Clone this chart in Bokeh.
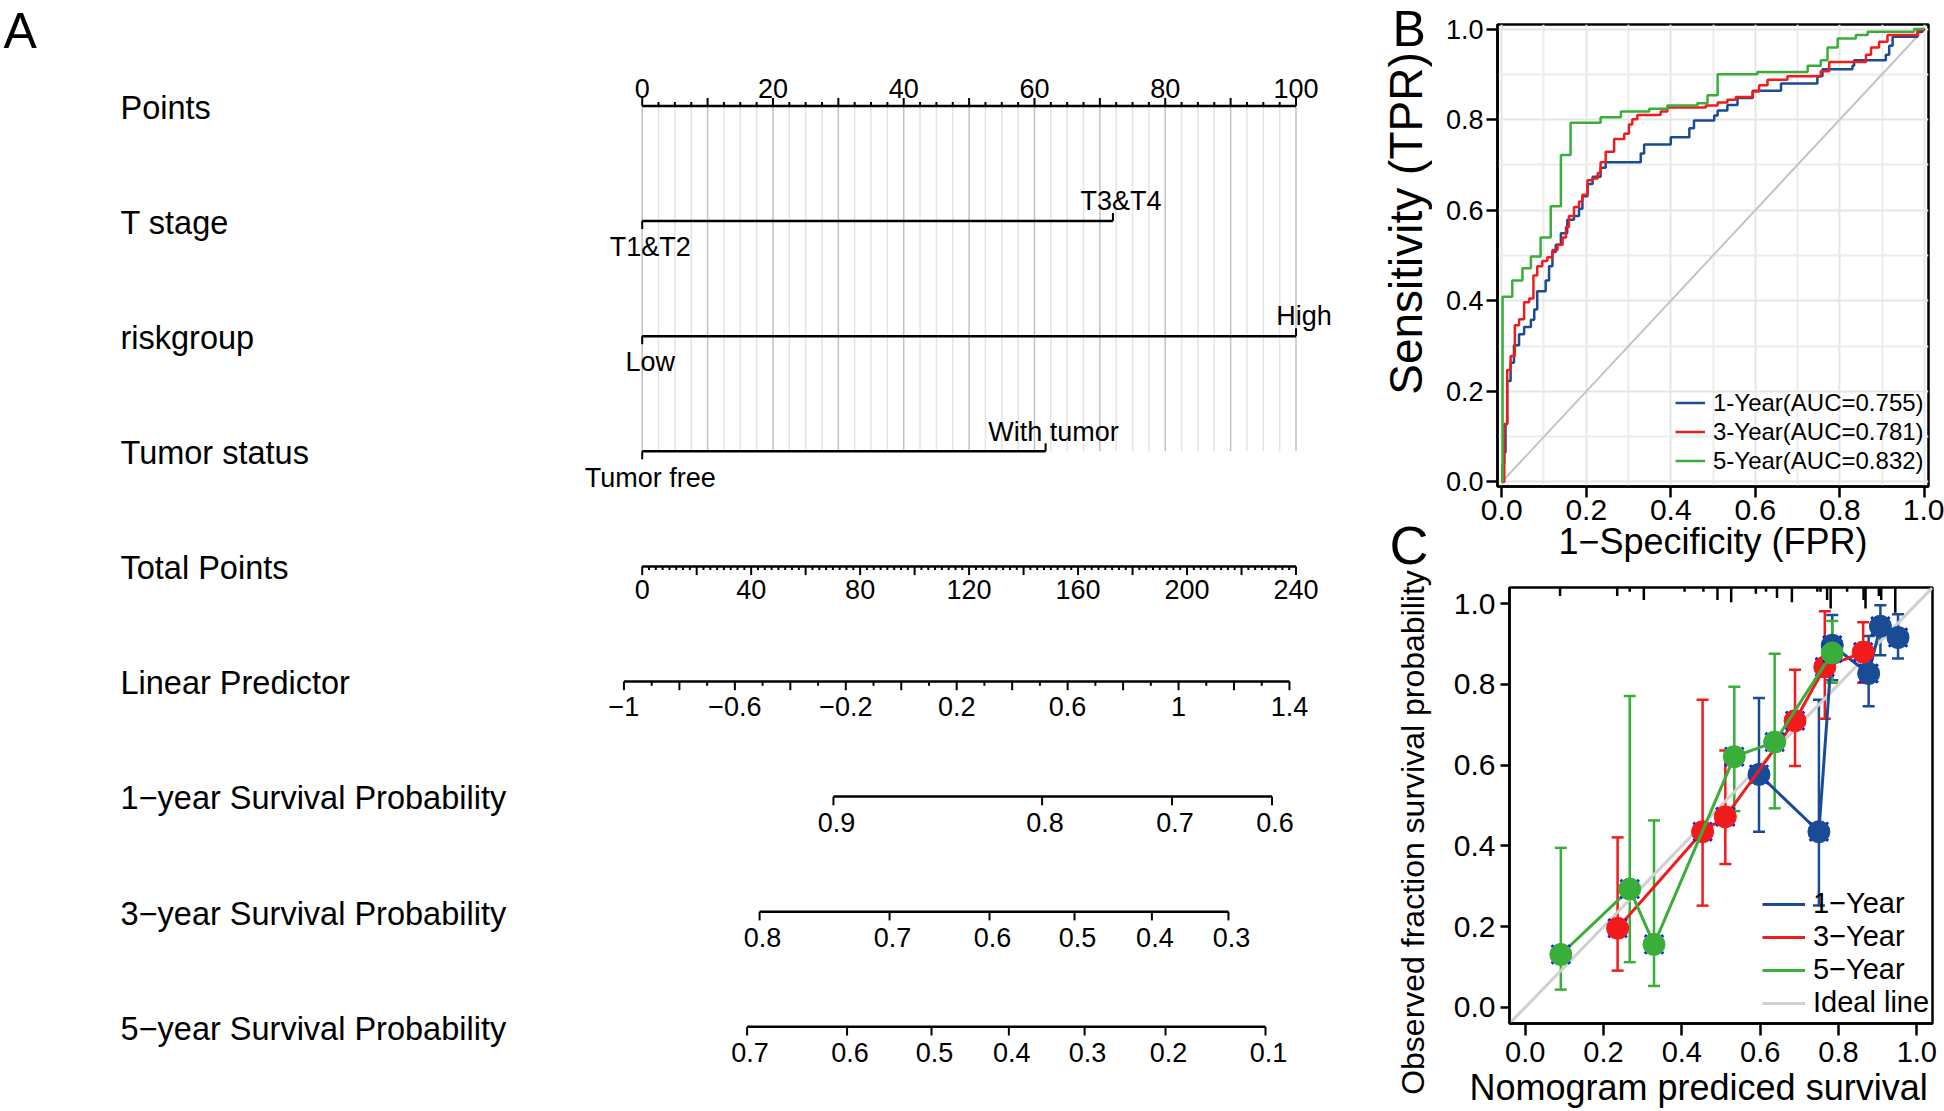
import numpy as np
from bokeh.plotting import figure
from bokeh.layouts import row, column
from bokeh.models import (Range1d, FixedTicker, PrintfTickFormatter, Legend, LegendItem,
                          Whisker, TeeHead, ColumnDataSource, Title)
from bokeh.core.properties import value
from bokeh.embed import file_html
from bokeh.resources import INLINE

FONT = "Liberation Sans"

# ---------------- Panel A : nomogram data ----------------
row_names = ["Points", "T stage", "riskgroup", "Tumor status", "Total Points", "Linear Predictor",
             "1\u2212year Survival Probability", "3\u2212year Survival Probability",
             "5\u2212year Survival Probability"]
points_labels = [0, 20, 40, 60, 80, 100]
tstage_levels = ["T1&T2", "T3&T4"]
tstage_points = [0.0, 72.0]
risk_levels = ["Low", "High"]
risk_points = [0.0, 100.0]
tumor_levels = ["Tumor free", "With tumor"]
tumor_points = [0.0, 61.7]
total_labels = [0, 40, 80, 120, 160, 200, 240]
lp_labels = [-1, -0.6, -0.2, 0.2, 0.6, 1, 1.4]
lp_ends = [-1.0, 1.4]
lp_ends_total_points = [-6.7, 237.6]
surv1_labels = [0.9, 0.8, 0.7, 0.6]
surv1_total_points = [70.2, 146.8, 194.5, 231.2]
surv3_labels = [0.8, 0.7, 0.6, 0.5, 0.4, 0.3]
surv3_total_points = [43.1, 90.8, 127.5, 158.7, 187.1, 215.2]
surv5_labels = [0.7, 0.6, 0.5, 0.4, 0.3, 0.2, 0.1]
surv5_total_points = [38.5, 75.2, 106.2, 134.6, 162.4, 192.1, 228.8]

# ---------------- Panel B : ROC data ----------------
fpr1 = [0.0, 0.002, 0.006, 0.009, 0.013, 0.021, 0.029, 0.041, 0.053, 0.069, 0.077, 0.084, 0.104, 0.112,
        0.120, 0.128, 0.140, 0.155, 0.171, 0.183, 0.191, 0.203, 0.215, 0.234, 0.246, 0.329, 0.337, 0.400,
        0.444, 0.455, 0.503, 0.511, 0.534, 0.558, 0.594, 0.661, 0.747, 0.759, 0.830, 0.834, 0.909, 0.917,
        0.925, 0.984, 0.996, 1.0]
tpr1 = [0.0, 0.041, 0.065, 0.128, 0.223, 0.263, 0.302, 0.326, 0.342, 0.358, 0.381, 0.421, 0.445, 0.476,
        0.508, 0.524, 0.549, 0.579, 0.587, 0.603, 0.631, 0.658, 0.674, 0.694, 0.706, 0.725, 0.745, 0.761,
        0.781, 0.798, 0.809, 0.820, 0.832, 0.848, 0.864, 0.880, 0.896, 0.911, 0.919, 0.931, 0.943, 0.963,
        0.983, 0.994, 1.0, 1.0]
fpr3 = [0.0, 0.006, 0.013, 0.021, 0.031, 0.041, 0.053, 0.065, 0.075, 0.084, 0.096, 0.108, 0.120, 0.132,
        0.144, 0.152, 0.159, 0.171, 0.183, 0.191, 0.203, 0.215, 0.227, 0.234, 0.246, 0.266, 0.290, 0.301,
        0.309, 0.321, 0.376, 0.392, 0.483, 0.511, 0.534, 0.554, 0.594, 0.609, 0.629, 0.676, 0.755, 0.775,
        0.862, 0.874, 0.893, 0.913, 0.984, 1.0]
tpr3 = [0.0, 0.128, 0.247, 0.278, 0.346, 0.359, 0.397, 0.405, 0.456, 0.476, 0.488, 0.496, 0.512, 0.524,
        0.540, 0.563, 0.587, 0.607, 0.619, 0.634, 0.666, 0.670, 0.682, 0.706, 0.729, 0.757, 0.769, 0.789,
        0.801, 0.810, 0.818, 0.827, 0.831, 0.838, 0.844, 0.850, 0.862, 0.876, 0.888, 0.896, 0.907, 0.927,
        0.943, 0.959, 0.972, 0.987, 0.998, 1.0]
fpr5 = [0.0, 0.002, 0.025, 0.049, 0.069, 0.092, 0.116, 0.140, 0.163, 0.234, 0.282, 0.349, 0.392, 0.463,
        0.487, 0.511, 0.605, 0.724, 0.755, 0.771, 0.795, 0.838, 0.866, 0.976, 1.0]
tpr5 = [0.0, 0.409, 0.445, 0.472, 0.498, 0.540, 0.609, 0.722, 0.793, 0.805, 0.818, 0.824, 0.831, 0.836,
        0.854, 0.900, 0.905, 0.919, 0.931, 0.959, 0.979, 0.987, 0.994, 1.0, 1.0]
roc_labels = ["1-Year(AUC=0.755)", "3-Year(AUC=0.781)", "5-Year(AUC=0.832)"]
roc_xlabel = "1\u2212Specificity (FPR)"
roc_ylabel = "Sensitivity (TPR)"

# ---------------- Panel C : calibration data ----------------
cal1_x = [0.597, 0.750, 0.784, 0.877, 0.907, 0.952]
cal1_y = [0.577, 0.435, 0.897, 0.827, 0.944, 0.916]
cal1_lo = [0.435, 0.252, 0.810, 0.746, 0.872, 0.864]
cal1_hi = [0.766, 0.762, 0.972, 0.920, 0.996, 0.974]
cal3_x = [0.236, 0.453, 0.511, 0.689, 0.765, 0.863]
cal3_y = [0.196, 0.435, 0.472, 0.710, 0.843, 0.880]
cal3_lo = [0.091, 0.252, 0.355, 0.598, 0.715, 0.804]
cal3_hi = [0.421, 0.762, 0.636, 0.836, 0.981, 0.954]
cal5_x = [0.091, 0.267, 0.329, 0.534, 0.637, 0.784]
cal5_y = [0.131, 0.293, 0.156, 0.621, 0.657, 0.878]
cal5_lo = [0.044, 0.112, 0.053, 0.486, 0.493, 0.804]
cal5_hi = [0.395, 0.771, 0.463, 0.794, 0.876, 0.957]
rug_x = [0.089, 0.235, 0.267, 0.303, 0.407, 0.455, 0.491, 0.526, 0.589, 0.615, 0.643, 0.681, 0.746,
         0.754, 0.771, 0.780, 0.822, 0.864, 0.869, 0.903, 0.909, 0.945]
rug_n = [2, 2, 1, 3, 1, 1, 3, 3.5, 1.5, 1, 2.5, 3.5, 1, 1, 3, 5, 1, 3, 5, 2, 3, 6]
cal_labels = ["1\u2212Year", "3\u2212Year", "5\u2212Year", "Ideal line"]
cal_xlabel = "Nomogram prediced survival"
cal_ylabel = "Observed fraction survival probability"

BLUE, RED, GREEN = "#1a4c96", "#f21b1b", "#3aae3a"
XMARK = "#0a1eff"

# ---------------- page geometry (pixels) ----------------
PAGE_W, PAGE_H = 1944, 1111
SPLIT_X = 1432
SPLIT_Y = 580

def fmt(v):
    return f"{v:g}".replace("-", "\u2212")

BASE_SHIFT = 0.36   # em; compensates the renderer's placement of alphabetic baselines

def txt(p, xs, ys, texts, size, align="center", angle=0.0):
    xs = np.asarray(xs, float)
    ys = np.asarray(ys, float)
    if angle == 0.0:
        ys = ys - BASE_SHIFT * size
    p.text(x=list(xs), y=list(ys), text=list(texts), angle=angle,
           text_font=value(FONT), text_font_size=value(f"{size}px"),
           text_align=align, text_baseline="alphabetic", text_color="black")

# ======================= Panel A =======================
pA = figure(width=SPLIT_X, height=PAGE_H, x_range=Range1d(0, SPLIT_X), y_range=Range1d(PAGE_H, 0),
            x_axis_location=None, y_axis_location=None, toolbar_location=None,
            output_backend="svg", min_border=0)
pA.grid.visible = False
pA.outline_line_color = None

PT0_X, PT_SPAN = 641.7, 653.8
ROW_Y0, ROW_GAP = 105.5, 115.1
row_y = ROW_Y0 + ROW_GAP * np.arange(len(row_names))

def pts_x(v):
    return PT0_X + np.asarray(v, float) * PT_SPAN / 100.0

def tot_x(v):
    return PT0_X + np.asarray(v, float) * PT_SPAN / 240.0

def lp_x(v):
    t = lp_ends_total_points[0] + (np.asarray(v, float) - lp_ends[0]) * \
        (lp_ends_total_points[1] - lp_ends_total_points[0]) / (lp_ends[1] - lp_ends[0])
    return tot_x(t)

LW = 2.5
TW = 2.0

# row labels and panel letters
txt(pA, [120] * len(row_names), row_y + 13.5, row_names, 32.5, align="left")
txt(pA, [3], [48], ["A"], 50, align="left")
txt(pA, [1392], [46], ["B"], 50, align="left")
txt(pA, [1389], [564], ["C"], 54, align="left")
# rotated axis titles of panels B and C
txt(pA, [1405], [223], [roc_ylabel], 46, angle=np.pi / 2)
txt(pA, [1412], [832], [cal_ylabel], 32, angle=np.pi / 2)

# vertical reference grid (Points scale)
ptick = np.arange(0, 100.001, 2.5)
pmaj = np.isclose(ptick % 10, 0)
for sel, col in [(~pmaj, "#e4e4e4"), (pmaj, "#c2c2c2")]:
    xs = pts_x(ptick[sel])
    pA.segment(x0=xs, y0=[row_y[0]] * len(xs), x1=xs, y1=[row_y[3]] * len(xs), line_color=col, line_width=1.5)

# Points axis
y = row_y[0]
pA.segment(x0=[pts_x(0)], y0=[y], x1=[pts_x(100)], y1=[y], line_color="black", line_width=LW)
xs = pts_x(ptick)
pA.segment(x0=xs, y0=[y] * len(xs), x1=xs, y1=list(y - np.where(pmaj, 8, 4)), line_color="black", line_width=TW)
txt(pA, pts_x(points_labels), [y - 8] * len(points_labels), [fmt(v) for v in points_labels], 27)

# categorical predictors
for ri, levels, pts in [(1, tstage_levels, tstage_points), (2, risk_levels, risk_points),
                        (3, tumor_levels, tumor_points)]:
    y = row_y[ri]
    xs = pts_x(pts)
    pA.segment(x0=[xs.min()], y0=[y], x1=[xs.max()], y1=[y], line_color="black", line_width=LW)
    for i, (lev, x) in enumerate(zip(levels, xs)):
        d = 1 if i % 2 == 0 else -1
        pA.segment(x0=[x], y0=[y], x1=[x], y1=[y + 8 * d], line_color="black", line_width=TW)
        txt(pA, [x + 8], [y + (36 if d > 0 else -10)], [lev], 27)

# Total points
y = row_y[4]
ttick = np.arange(0, 240.001, 2.5)
tmaj = np.isclose(ttick % 20, 0)
pA.segment(x0=[tot_x(0)], y0=[y], x1=[tot_x(240)], y1=[y], line_color="black", line_width=LW)
xs = tot_x(ttick)
pA.segment(x0=xs, y0=[y] * len(xs), x1=xs, y1=list(y + np.where(tmaj, 8.7, 3.6)), line_color="black", line_width=TW)
txt(pA, tot_x(total_labels), [y + 32.6] * len(total_labels), [fmt(v) for v in total_labels], 27)

# Linear predictor
y = row_y[5]
ltick = np.round(np.arange(lp_ends[0], lp_ends[1] + 1e-9, 0.1), 1)
lmaj = (np.arange(len(ltick)) % 2 == 0)
pA.segment(x0=[lp_x(lp_ends[0])], y0=[y], x1=[lp_x(lp_ends[1])], y1=[y], line_color="black", line_width=LW)
xs = lp_x(ltick)
pA.segment(x0=xs, y0=[y] * len(xs), x1=xs, y1=list(y + np.where(lmaj, 8.7, 4.3)), line_color="black", line_width=TW)
txt(pA, lp_x(lp_labels), [y + 34.5] * len(lp_labels), [fmt(v) for v in lp_labels], 27)

# Survival probability scales
for ri, labs, tps in [(6, surv1_labels, surv1_total_points), (7, surv3_labels, surv3_total_points),
                      (8, surv5_labels, surv5_total_points)]:
    y = row_y[ri]
    xs = tot_x(tps)
    pA.segment(x0=[xs.min()], y0=[y], x1=[xs.max()], y1=[y], line_color="black", line_width=LW)
    pA.segment(x0=xs, y0=[y] * len(xs), x1=xs, y1=[y + 8.7] * len(xs), line_color="black", line_width=TW)
    txt(pA, xs + 3, [y + 35.5] * len(xs), [fmt(v) for v in labs], 27)


# ======================= axis styling helper =======================
def style_axis(ax, tick_out, lab_size, lab_standoff, title_size=None, title_standoff=0):
    ax.ticker = FixedTicker(ticks=[0, 0.2, 0.4, 0.6, 0.8, 1.0], minor_ticks=[0.1, 0.3, 0.5, 0.7, 0.9])
    ax.formatter = PrintfTickFormatter(format="%.1f")
    ax.major_tick_out = tick_out
    ax.major_tick_in = 0
    ax.major_tick_line_width = 2.5
    ax.major_tick_line_color = "black"
    ax.minor_tick_line_color = None
    ax.axis_line_color = "black"
    ax.axis_line_width = 2.5
    ax.major_label_text_font = FONT
    ax.major_label_text_font_size = f"{lab_size}px"
    ax.major_label_text_color = "black"
    ax.major_label_standoff = lab_standoff
    if title_size:
        ax.axis_label_text_font = FONT
        ax.axis_label_text_font_size = f"{title_size}px"
        ax.axis_label_text_font_style = "normal"
        ax.axis_label_text_color = "black"
        ax.axis_label_standoff = title_standoff
    else:
        ax.axis_label = None


def no_frame_align(p):
    try:
        p.frame_align = False
    except Exception:
        pass


# ======================= Panel B : ROC =======================
B_FL, B_FR, B_FT, B_FB = 1497, 1928, 24, 486
pB = figure(width=PAGE_W - SPLIT_X, height=SPLIT_Y,
            x_range=Range1d(-0.01, 1.01), y_range=Range1d(-0.01, 1.01),
            x_axis_label=roc_xlabel,
            toolbar_location=None, output_backend="svg",
            min_border_left=B_FL - SPLIT_X, min_border_right=PAGE_W - B_FR,
            min_border_top=B_FT, min_border_bottom=SPLIT_Y - B_FB)
no_frame_align(pB)
style_axis(pB.xaxis[0], 11, 30, 2, 36, -2)
style_axis(pB.yaxis[0], 11, 27, 3)
for g in pB.grid:
    g.grid_line_color = "#e6e6e6"
    g.grid_line_width = 2
    g.minor_grid_line_color = "#ececec"
    g.minor_grid_line_width = 2
pB.outline_line_color = "black"
pB.outline_line_width = 2.5
pB.outline_line_alpha = 1.0

pB.line(x=[0, 1], y=[0, 1], line_color="#c4c4c4", line_width=2)
rB = []
for fx, ty, col in [(fpr1, tpr1, BLUE), (fpr3, tpr3, RED), (fpr5, tpr5, GREEN)]:
    rB.append(pB.step(x=fx, y=ty, mode="after", line_color=col, line_width=2.5))
legB = Legend(items=[LegendItem(label=l, renderers=[r]) for l, r in zip(roc_labels, rB)],
              location=(1675 - B_FL, 11), glyph_width=30, glyph_height=29, label_height=29, spacing=0,
              padding=0, margin=0, label_standoff=8, border_line_color=None, background_fill_alpha=0,
              label_text_font=FONT, label_text_font_size="24px", label_text_color="black")
pB.add_layout(legB)

# ======================= Panel C : calibration =======================
C_FL, C_FR, C_FT, C_FB = 1509, 1932, 587, 1023
pC = figure(width=PAGE_W - SPLIT_X, height=PAGE_H - SPLIT_Y,
            x_range=Range1d(-0.04, 1.04), y_range=Range1d(-0.04, 1.04),
            toolbar_location=None, output_backend="svg",
            min_border_left=C_FL - SPLIT_X, min_border_right=PAGE_W - C_FR,
            min_border_top=C_FT - SPLIT_Y, min_border_bottom=PAGE_H - C_FB)
no_frame_align(pC)
pC.grid.visible = False
style_axis(pC.xaxis[0], 12, 29, 6)
style_axis(pC.yaxis[0], 9, 30, 5)
pC.outline_line_color = "black"
pC.outline_line_width = 2.5
pC.outline_line_alpha = 1.0
pC.add_layout(Title(text=cal_xlabel, align="left", offset=-(C_FL - 1469), standoff=0,
                    text_font=FONT, text_font_size="36px", text_font_style="normal", text_color="black"),
              "below")

# ideal line
r_ideal = pC.line(x=[pC.x_range.start, pC.x_range.end], y=[pC.y_range.start, pC.y_range.end],
                  line_color="#d0d0d0", line_width=3)
# rug of predicted values along the top
RUG_UNIT = 4.2 * (pC.y_range.end - pC.y_range.start) / (C_FB - C_FT)
top = pC.y_range.end
pC.segment(x0=rug_x, y0=[top] * len(rug_x), x1=rug_x, y1=[top - n * RUG_UNIT for n in rug_n],
           line_color="black", line_width=2.5)

rC = []
for xs, ys, lo, hi, col in [(cal1_x, cal1_y, cal1_lo, cal1_hi, BLUE), (cal3_x, cal3_y, cal3_lo, cal3_hi, RED),
                            (cal5_x, cal5_y, cal5_lo, cal5_hi, GREEN)]:
    src = ColumnDataSource(dict(x=xs, y=ys, lo=lo, hi=hi))
    pC.add_layout(Whisker(source=src, base="x", upper="hi", lower="lo", line_color=col, line_width=2.5,
                          upper_head=TeeHead(size=12, line_color=col, line_width=2.5),
                          lower_head=TeeHead(size=12, line_color=col, line_width=2.5)))
    r = pC.line(x="x", y="y", source=src, line_color=col, line_width=3)
    rC.append(r)
    pC.scatter(x="x", y="y", source=src, marker="x", size=26, line_color=XMARK, line_width=3)
    pC.scatter(x="x", y="y", source=src, marker="circle", size=22, fill_color=col, line_color=col)

legC = Legend(items=[LegendItem(label=l, renderers=[r]) for l, r in zip(cal_labels, rC + [r_ideal])],
              location=(1762 - C_FL, 4), glyph_width=43, glyph_height=32, label_height=32, spacing=0,
              padding=0, margin=0, label_standoff=8, border_line_color=None, background_fill_alpha=0,
              label_text_font=FONT, label_text_font_size="29px", label_text_color="black")
pC.add_layout(legC)

layout = row(pA, column(pB, pC))
open("out.html", "w").write(file_html(layout, INLINE))
